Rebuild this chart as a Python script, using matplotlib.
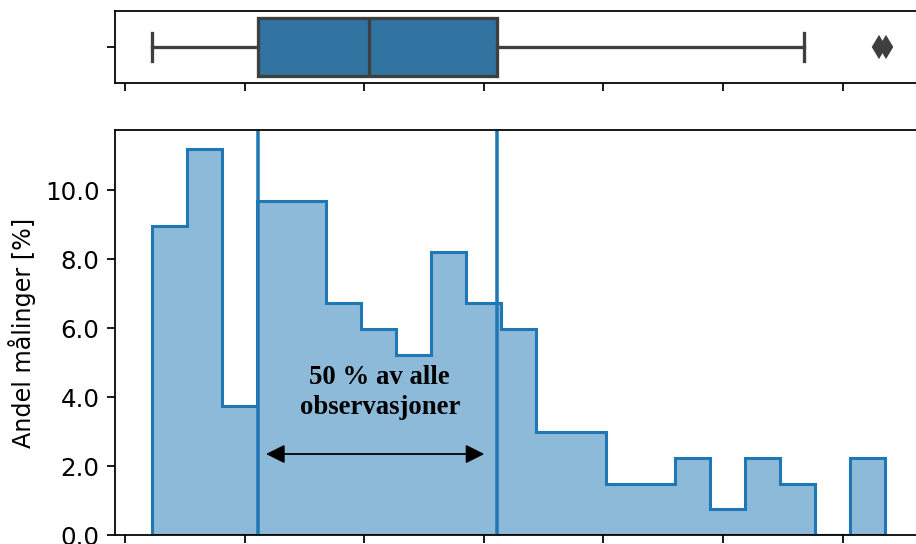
import numpy as np
import matplotlib
matplotlib.use("Agg")
import matplotlib.pyplot as plt
from matplotlib.colors import to_rgba

# Share of measurements in each histogram bin [%]
share_pct = [8.96, 11.19, 3.73, 9.70, 9.70, 6.72, 5.97, 5.22, 8.21, 6.72,
             5.97, 2.99, 2.99, 1.49, 1.49, 2.24, 0.75, 2.24, 1.49, 0.00, 2.24]
value_min = 2.26
value_max = 63.5

# Box plot summary of the same measurements
q1 = 11.15
median = 20.4
q3 = 31.13
whisker_low = 2.26
whisker_high = 56.8
outliers = [63.0, 63.6]

x_ticks = [0, 10, 20, 30, 40, 50, 60, 70]
y_ticks = [0, 2, 4, 6, 8, 10]
x_limits = (-0.84, 69.8)

annotation_text = "50 % av alle\nobservasjoner"
ylabel_text = "Andel målinger [%]"

DPI = 158
plt.rcParams["font.size"] = 11.2
fig = plt.figure(figsize=(916 / DPI, 544 / DPI), dpi=DPI)

ax_box = fig.add_axes([0.1255, 0.8474, 0.9225, 0.1324])
ax = fig.add_axes([0.1255, 0.0165, 0.9225, 0.7445])

box_color = "#3274a1"
line_gray = "#3f3f3f"

# Box plot on top
stats = [dict(med=median, q1=q1, q3=q3, whislo=whisker_low,
              whishi=whisker_high, fliers=outliers)]
ax_box.bxp(stats, positions=[0], widths=0.8, orientation="horizontal",
           patch_artist=True,
           boxprops=dict(facecolor=box_color, edgecolor=line_gray, linewidth=1.5),
           whiskerprops=dict(color=line_gray, linewidth=1.5),
           capprops=dict(color=line_gray, linewidth=1.5),
           medianprops=dict(color=line_gray, linewidth=1.5),
           flierprops=dict(marker="d", markerfacecolor=line_gray,
                           markeredgecolor=line_gray, markersize=6.5))
ax_box.set_ylim(0.5, -0.5)
ax_box.set_yticks([0])
ax_box.set_yticklabels([""])
ax_box.set_xticks(x_ticks)
ax_box.set_xlim(*x_limits)
ax_box.tick_params(axis="x", labelbottom=False)

# Histogram
edges = np.linspace(value_min, value_max, len(share_pct) + 1)
ax.hist(edges[:-1], bins=edges, weights=share_pct, histtype="stepfilled",
        facecolor=to_rgba("C0", 0.5), edgecolor="C0", linewidth=1.4)
ax.axvline(q1, color="C0", linewidth=1.6)
ax.axvline(q3, color="C0", linewidth=1.6)

ax.set_xticks(x_ticks)
ax.set_xlim(*x_limits)
ax.tick_params(axis="x", labelbottom=False)
ax.set_yticks(y_ticks)
ax.set_yticklabels([f"{v:.1f}" for v in y_ticks])
ax.set_ylim(0, max(share_pct) * 1.05)
ax.set_ylabel(ylabel_text, fontsize=10.9)

ax.text(21.3, 4.13, annotation_text, ha="center", va="center",
        fontfamily="Liberation Serif", fontweight="bold", fontsize=12.2,
        linespacing=1.25)
ax.annotate("", xy=(11.79, 2.35), xytext=(30.04, 2.35),
            arrowprops=dict(arrowstyle="<|-|>", color="black", linewidth=0.8,
                            mutation_scale=18, shrinkA=0, shrinkB=0))

fig.savefig("out.png", dpi=DPI)
